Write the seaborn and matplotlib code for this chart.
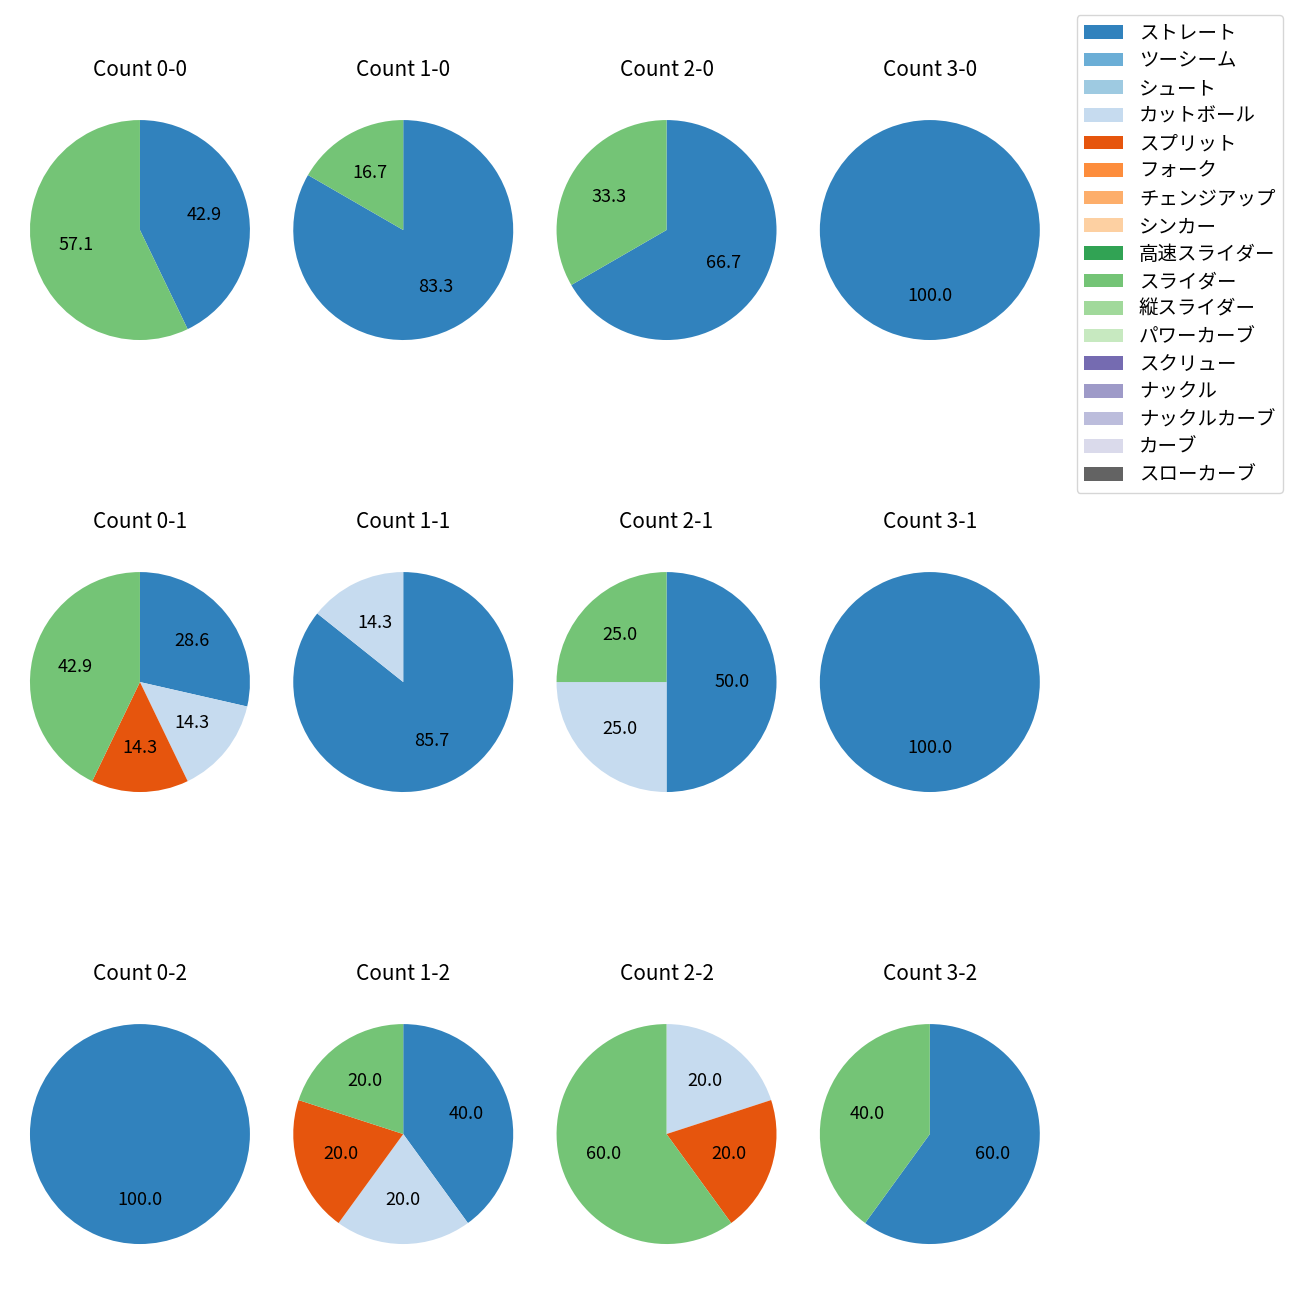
import matplotlib
matplotlib.use("Agg")
import matplotlib.pyplot as plt
import matplotlib.patches as mpatches
import seaborn as sns
import numpy as np

sns.set_theme(style="white")
plt.rcParams['font.family'] = ['Noto Sans CJK JP', 'DejaVu Sans']
plt.rcParams['text.color'] = 'black'
plt.rcParams['axes.titlecolor'] = 'black'
plt.rcParams['legend.edgecolor'] = '0.8'

pitch_types = ["ストレート", "ツーシーム", "シュート", "カットボール", "スプリット", "フォーク",
               "チェンジアップ", "シンカー", "高速スライダー", "スライダー", "縦スライダー",
               "パワーカーブ", "スクリュー", "ナックル", "ナックルカーブ", "カーブ", "スローカーブ"]

counts = ["0-0", "1-0", "2-0", "3-0",
          "0-1", "1-1", "2-1", "3-1",
          "0-2", "1-2", "2-2", "3-2"]

# pitch counts per ball-strike count: (straight, cutball, split, slider)
straight = [3, 5, 2, 1, 2, 6, 2, 1, 1, 2, 0, 3]
cutball  = [0, 0, 0, 0, 1, 1, 1, 0, 0, 1, 1, 0]
split    = [0, 0, 0, 0, 1, 0, 0, 0, 0, 1, 1, 0]
slider   = [4, 1, 1, 0, 3, 0, 1, 0, 0, 1, 3, 2]

palette = sns.color_palette("tab20c", 20)
color_map = {p: palette[i] for i, p in enumerate(pitch_types)}

fig, axes = plt.subplots(3, 4, figsize=(13, 13), dpi=100)
fig.subplots_adjust(left=0.0019, right=0.821, top=0.9288, bottom=0.0219,
                    wspace=-0.0424, hspace=0.644)

for i, ax in enumerate(axes.flat):
    vals = {"ストレート": straight[i], "カットボール": cutball[i],
            "スプリット": split[i], "スライダー": slider[i]}
    labels = [p for p in pitch_types if vals.get(p, 0) > 0]
    sizes = [vals[p] for p in labels]
    ax.pie(sizes, colors=[color_map[p] for p in labels], startangle=90,
           counterclock=False, autopct='%.1f',
           wedgeprops={'linewidth': 0},
           textprops={'fontsize': 13, 'color': 'black'})
    ax.set_title(f"Count {counts[i]}", fontsize=15, pad=12, color='black')

handles = [mpatches.Patch(facecolor=color_map[p], edgecolor='none', label=p) for p in pitch_types]
fig.legend(handles=handles, loc='upper right', bbox_to_anchor=(0.987, 0.9885),
           borderaxespad=0, fontsize=14, labelspacing=0.34, frameon=True)

fig.savefig("out.png", dpi=100)
